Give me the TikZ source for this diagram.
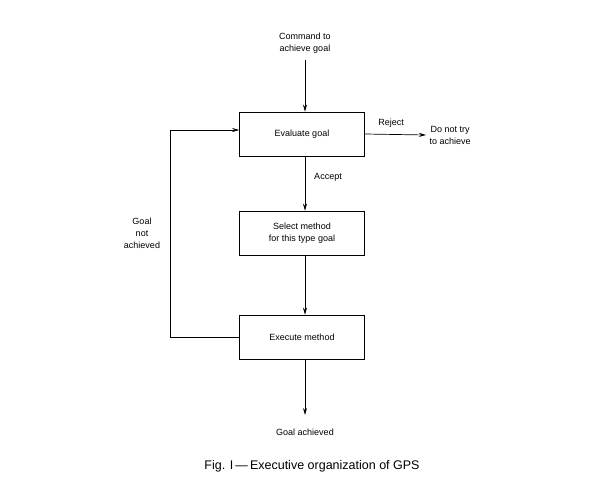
\documentclass[tikz,border=0pt]{standalone}
\usepackage{fontspec}
\setmainfont{Liberation Sans}
\usetikzlibrary{arrows.meta}
\begin{document}
\begin{tikzpicture}[x=1pt,y=-1pt,
  box/.style={draw,line width=0.7pt,minimum width=125pt,minimum height=44pt,align=center,font=\fontsize{9}{12}\selectfont},
  lab/.style={align=center,font=\fontsize{9}{12}\selectfont},
  arr/.style={line width=0.7pt,-{Stealth[length=7pt,width=4pt]}}]
\useasboundingbox (0,0) rectangle (609,500);
\node[box] (eval) at (302,134) {Evaluate goal};
\node[box] (sel) at (302,233) {Select method\\for this type goal};
\node[box] (exec) at (302,337) {Execute method};
\node[lab] (cmd) at (305,43) {Command to\\achieve goal};
\coordinate (top) at (305,60);
\node[lab,anchor=west] (rej) at (426,135) {Do not try\\to achieve};
\node[lab] (rejl) at (391,123) {Reject};
\node[lab] (acc) at (328,177) {Accept};
\node[lab] (ach) at (305,432) {Goal achieved};
\coordinate (bot) at (305,415);
\node[lab] (gna) at (142,233) {Goal\\not\\achieved};
\node[font=\fontsize{12.5}{14}\selectfont] (cap) at (312,466) {Fig. I\,—\,Executive organization of GPS};
\draw[arr] (top) -- (eval.north -| top);
\draw[arr] (eval.east) -- (rej.west);
\draw[arr] (eval.south -| top) -- (sel.north -| top);
\draw[arr] (sel.south -| top) -- (exec.north -| top);
\draw[arr] (exec.south -| top) -- (bot);
\draw[arr] (exec.west) -- (170,337) -- (170,130) -- (eval.west |- 0,130);
\end{tikzpicture}
\end{document}
